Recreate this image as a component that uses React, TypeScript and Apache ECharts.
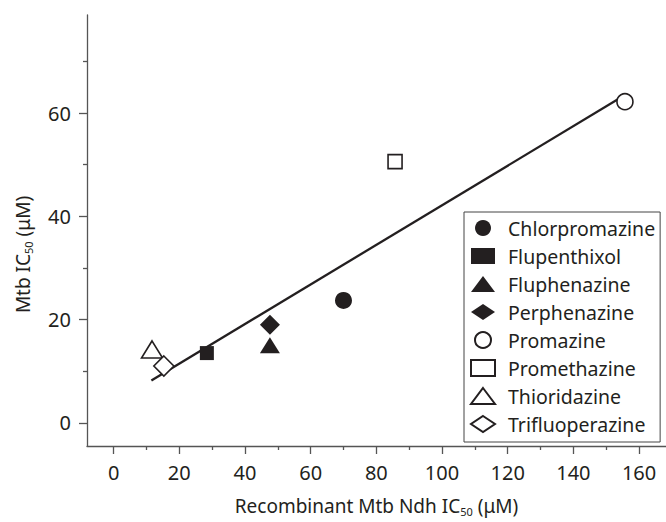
import React, { useEffect, useRef } from "react";
import * as echarts from "echarts";

// ---- data ----
const DRUGS = [
  "Chlorpromazine",
  "Flupenthixol",
  "Fluphenazine",
  "Perphenazine",
  "Promazine",
  "Promethazine",
  "Thioridazine",
  "Trifluoperazine",
];
const NDH_IC50 = [70.0, 28.4, 47.6, 47.6, 155.7, 85.7, 11.7, 15.3];
const MTB_IC50 = [23.7, 13.5, 15.0, 19.0, 62.2, 50.6, 14.2, 11.0];
const FIT_X = [11.5, 155.7];
const FIT_Y = [8.2, 63.5];
const X_TICKS = [0, 20, 40, 60, 80, 100, 120, 140, 160];
const X_MINOR = [10, 30, 50, 70, 90, 110, 130, 150];
const Y_TICKS = [0, 20, 40, 60];
const Y_MINOR = [10, 30, 50, 70];

// ---- styles ----
const INK = "#231f20";
const AXIS = "#555555";
const FONT = "Noto Sans";
const SYMBOLS = ["circle", "rect", "triangle", "diamond", "circle", "rect", "triangle", "diamond"];
const FILLED = [true, true, true, true, false, false, false, false];
const SIZES: any[] = [17, 14, [20, 16], [20, 20], 16, 14, [21, 17], [20, 20]];

export default function App() {
  const ref = useRef<HTMLDivElement>(null);
  useEffect(() => {
    if (!ref.current) return;
    const chart = echarts.init(ref.current, null, { renderer: "svg" });
    const xRange = { min: -8.1, max: 168.2 };
    const yRange = { min: -4.5, max: 79 };
    const nameRich = {
      sub: { fontSize: 11, lineHeight: 11, padding: [10, 0, 0, 0], verticalAlign: "top", fontFamily: FONT, color: INK },
    };
    const scatter = DRUGS.map((name, i) => ({
      type: "scatter",
      name,
      z: 3,
      symbol: SYMBOLS[i],
      symbolSize: SIZES[i],
      data: [[NDH_IC50[i], MTB_IC50[i]]],
      itemStyle: FILLED[i]
        ? { color: INK, borderWidth: 0, opacity: 1 }
        : { color: "#ffffff", borderColor: INK, borderWidth: 1.6, opacity: 1 },
      emphasis: { disabled: true },
    }));
    chart.setOption({
      animation: false,
      textStyle: { fontFamily: FONT },
      grid: { left: 87, top: 15, right: 0, bottom: 72.5, containLabel: false },
      xAxis: [
        {
          type: "value",
          ...xRange,
          name: "Recombinant Mtb Ndh IC{sub|50} (μM)",
          nameLocation: "middle",
          nameGap: 50,
          nameTextStyle: { fontSize: 19, color: INK, fontFamily: FONT, rich: nameRich },
          axisLine: { onZero: false, lineStyle: { color: AXIS, width: 1.3 } },
          axisTick: { show: true, customValues: X_TICKS, length: 8, lineStyle: { color: AXIS, width: 1.3 } },
          axisLabel: { customValues: X_TICKS, fontSize: 20, color: INK, margin: 16, fontFamily: FONT },
          splitLine: { show: false },
        },
        {
          type: "value",
          ...xRange,
          position: "bottom",
          axisLine: { show: false, onZero: false },
          axisTick: { show: true, customValues: X_MINOR, length: 4, lineStyle: { color: AXIS, width: 1.3 } },
          axisLabel: { show: false },
          splitLine: { show: false },
        },
      ],
      yAxis: [
        {
          type: "value",
          ...yRange,
          name: "Mtb IC{sub|50} (μM)",
          nameLocation: "middle",
          nameGap: 55,
          nameTextStyle: { fontSize: 19, color: INK, fontFamily: FONT, rich: nameRich, padding: [0, 48, 0, 0] },
          axisLine: { onZero: false, lineStyle: { color: AXIS, width: 1.3 } },
          axisTick: { show: true, customValues: Y_TICKS, length: 8, lineStyle: { color: AXIS, width: 1.3 } },
          axisLabel: { customValues: Y_TICKS, fontSize: 20, color: INK, margin: 16, fontFamily: FONT },
          splitLine: { show: false },
        },
        {
          type: "value",
          ...yRange,
          position: "left",
          axisLine: { show: false, onZero: false },
          axisTick: { show: true, customValues: Y_MINOR, length: 4, lineStyle: { color: AXIS, width: 1.3 } },
          axisLabel: { show: false },
          splitLine: { show: false },
        },
      ],
      legend: {
        orient: "vertical",
        left: 464,
        top: 212,
        padding: [6, 5, 8, 6],
        itemWidth: 24,
        itemHeight: 16,
        itemGap: 8,
        borderColor: "#444444",
        borderWidth: 1,
        borderRadius: 0,
        backgroundColor: "#ffffff",
        selectedMode: false,
        textStyle: { fontSize: 19.5, lineHeight: 20, color: INK, fontFamily: FONT, padding: [0, 0, 0, 8] },
        data: DRUGS,
      },
      series: [
        {
          type: "line",
          name: "fit",
          z: 2,
          symbol: "none",
          data: FIT_X.map((x, i) => [x, FIT_Y[i]]),
          lineStyle: { color: INK, width: 2.3 },
          emphasis: { disabled: true },
          silent: true,
        },
        ...scatter,
      ],
    });
    return () => chart.dispose();
  }, []);
  return (
    <div
      ref={ref}
      style={{ position: "absolute", left: 0, top: 0, width: 666, height: 522, background: "#fff" }}
    />
  );
}
